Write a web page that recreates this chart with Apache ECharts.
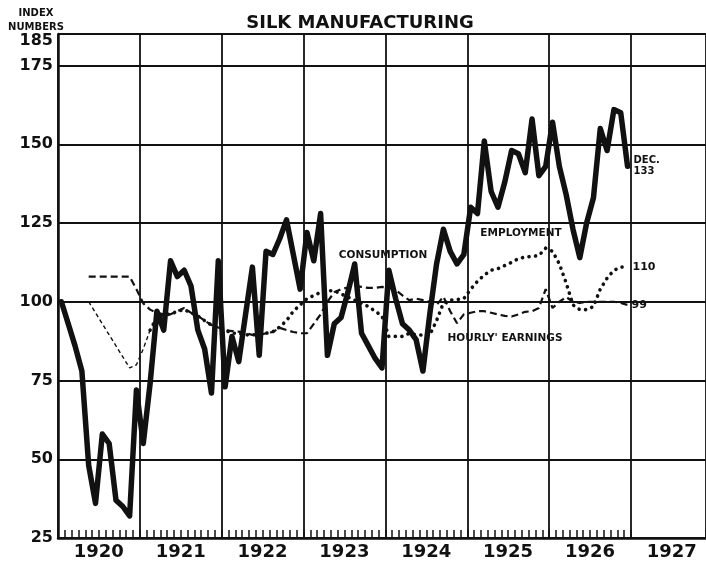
<!DOCTYPE html>
<html>
<head>
<meta charset="utf-8">
<script src="https://cdn.jsdelivr.net/npm/echarts@6/dist/echarts.min.js"></script>
<style>
  html, body { margin: 0; padding: 0; background: #fff; }
  #chart { width: 706px; height: 562px; }
</style>
</head>
<body>
<div id="chart"></div>
<script>
// bottom axis: one slot per month, Jan 1920 .. Nov 1927 (the plate is cut off on the right)
var years = ['1920', '1921', '1922', '1923', '1924', '1925', '1926', '1927'];
var monthNames = ['Jan', 'Feb', 'Mar', 'Apr', 'May', 'Jun', 'Jul', 'Aug', 'Sep', 'Oct', 'Nov', 'Dec'];
var yMin = 25, yMax = 185, yStep = 25;

// index numbers, monthly Jan 1920 .. Dec 1926
var consumption = [
  100, 93, 86, 78, 48, 36, 58, 55, 37, 35, 32, 72,
  55, 74, 97, 91, 113, 108, 110, 105, 91, 85, 71, 113,
  73, 89, 81, 96, 111, 83, 116, 115, 120, 126, 115, 104,
  122, 113, 128, 83, 93, 95, 103, 112, 90, 86, 82, 79,
  110, 101, 93, 91, 88, 78, 96, 112, 123, 116, 112, 115,
  130, 128, 151, 135, 130, 138, 148, 147, 141, 158, 140, 143,
  157, 143, 134, 123, 114, 125, 133, 155, 148, 161, 160, 143
];
var employment = [
  null, null, null, null, 100, null, null, null, null, null, 79, 80,
  85, 91, 95, 96, 96, 97, 97.5, 96.5, 95.5, 94, 92.6, 91.8,
  91, 90, 90, 89.5, 89.5, 89.5, 90, 90.5, 92, 94, 97, 99,
  101, 102, 103, 103.5, 103.5, 102.5, 101.5, 100.5, 99.5, 98.5, 97, 95.5,
  89, 89, 89, 90, 89.5, 89.4, 89.4, 94, 99.6, 100.5, 100.7, 101,
  104, 106.5, 108.5, 110, 110.5, 111.5, 112.5, 113.7, 114.2, 114.4, 114.7, 117,
  116, 112, 106, 99, 97.5, 97.5, 98.5, 104, 107.5, 110, 111, 111
];
var earnings = [
  null, null, null, null, 108, null, null, null, null, null, 108, 104,
  99.5, 97.5, 96.5, 96, 96, 97, 98, 96.5, 95.5, 94, 92.6, 91.8,
  91, 90.7, 90.5, 90, 89.5, 89.4, 90, 90.4, 91.7, 91, 90.4, 90,
  90, 93, 96, 100, 103, 104, 104.5, 105, 104.7, 104.4, 104.4, 104.7,
  104.5, 103.7, 102, 100.5, 101, 100.5, 100, 99, 101.6, 97, 93.2, 96,
  96.5, 97, 97, 96.5, 96, 95.5, 95.3, 96, 96.8, 97, 98, 104,
  98, 100, 101.5, 100, 99.6, 100, 100, 100, 100, 100, 99.6, 99
];

var months = [];
years.forEach(function (y) {
  monthNames.forEach(function (m) { months.push(y + ' ' + m); });
});
months = months.slice(0, 95);

// keep only part of a series (the 1920 employment stretch is drawn thin-dashed)
function part(arr, from, to) {
  return arr.map(function (v, i) { return i >= from && i <= to ? v : null; });
}

var ink = '#111';
var font = 'DejaVu Sans';

var myChart = echarts.init(document.getElementById('chart'));
myChart.setOption({
  backgroundColor: '#fff',
  animation: false,
  title: [
    {
      text: 'SILK MANUFACTURING',
      left: 355,
      top: 9,
      textAlign: 'center',
      textStyle: { fontFamily: font, fontSize: 18, fontWeight: 'bold', color: ink }
    },
    {
      text: 'INDEX\nNUMBERS',
      left: 31,
      top: 1,
      textAlign: 'center',
      textStyle: { fontFamily: font, fontSize: 10, fontWeight: 'bold', color: ink, lineHeight: 14, align: 'center' }
    }
  ],
  grid: { left: 58, right: 0, top: 34, bottom: 24 },
  xAxis: {
    type: 'category',
    data: months,
    boundaryGap: true,
    axisLine: { lineStyle: { color: ink, width: 2.5 } },
    axisTick: {
      show: true,
      inside: true,
      length: 8,
      lineStyle: { color: ink, width: 1.5 },
      interval: function (index) { return index <= 84; }
    },
    axisLabel: {
      interval: function (index) { return index % 12 === 6; },
      formatter: function (v) { return v.slice(0, 4); },
      fontFamily: font,
      fontSize: 18,
      fontWeight: 'bold',
      color: ink,
      margin: 5,
      padding: [0, 7, 0, 0]
    },
    splitLine: {
      show: true,
      interval: function (index) { return index % 12 === 0; },
      lineStyle: { color: ink, width: 1.8 }
    }
  },
  yAxis: {
    type: 'value',
    min: yMin,
    max: yMax,
    interval: yStep,
    axisLine: { show: true, lineStyle: { color: ink, width: 2.5 } },
    axisTick: { show: false },
    axisLabel: {
      fontFamily: font,
      fontSize: 16,
      fontWeight: 'bold',
      color: ink,
      margin: 5,
      // the top value sits just under the frame line
      formatter: function (v) { return v === yMax ? '{top|' + v + '}' : String(v); },
      rich: {
        top: { fontFamily: font, fontSize: 16, fontWeight: 'bold', color: ink, padding: [14, 0, 0, 0] }
      }
    },
    splitLine: { lineStyle: { color: ink, width: 1.8 } }
  },
  graphic: [
    { type: 'text', x: 383, y: 255, style: { text: 'CONSUMPTION', font: 'bold 10.5px "DejaVu Sans"', fill: ink, align: 'center', verticalAlign: 'middle' } },
    { type: 'text', x: 521, y: 233, style: { text: 'EMPLOYMENT', font: 'bold 10.5px "DejaVu Sans"', fill: ink, align: 'center', verticalAlign: 'middle' } },
    { type: 'text', x: 505, y: 338, style: { text: "HOURLY' EARNINGS", font: 'bold 10.5px "DejaVu Sans"', fill: ink, align: 'center', verticalAlign: 'middle' } }
  ],
  series: [
    {
      name: 'Hourly earnings',
      type: 'line',
      data: earnings,
      symbol: 'none',
      connectNulls: true,
      lineStyle: { color: ink, width: 2.2, type: [7, 4] },
      endLabel: {
        show: true,
        formatter: '99',
        distance: 4,
        fontFamily: font, fontSize: 11, fontWeight: 'bold', color: ink
      }
    },
    {
      name: 'Employment 1920',
      type: 'line',
      data: part(employment, 0, 13),
      symbol: 'none',
      connectNulls: true,
      lineStyle: { color: ink, width: 1.4, type: [4, 3] }
    },
    {
      name: 'Employment',
      type: 'line',
      data: part(employment, 13, 83),
      symbol: 'none',
      lineStyle: { color: ink, width: 3.6, type: [0.1, 6.5], cap: 'round' },
      endLabel: {
        show: true,
        formatter: '110',
        distance: 5,
        fontFamily: font, fontSize: 11, fontWeight: 'bold', color: ink
      }
    },
    {
      name: 'Consumption',
      type: 'line',
      data: consumption,
      symbol: 'none',
      lineStyle: { color: ink, width: 5.5, join: 'round', cap: 'round' },
      endLabel: {
        show: true,
        formatter: 'DEC.\n133',
        distance: 6,
        lineHeight: 11,
        fontFamily: font, fontSize: 10, fontWeight: 'bold', color: ink
      }
    }
  ]
});
</script>
</body>
</html>
